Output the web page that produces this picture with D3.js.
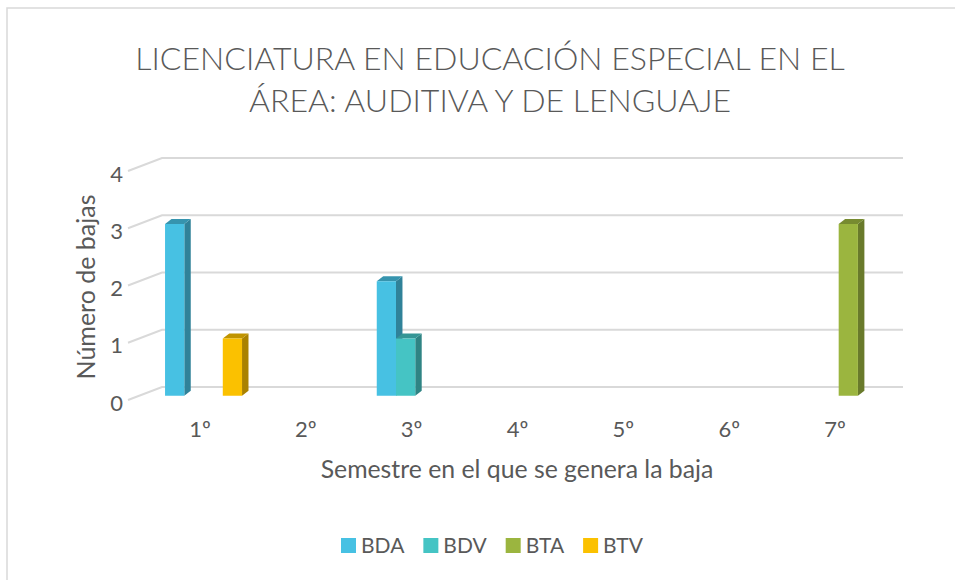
<!DOCTYPE html>
<html>
<head>
<meta charset="utf-8">
<script src="https://cdn.jsdelivr.net/npm/d3@7"></script>
<style>
  body { margin: 0; background: #fff; }
  text { font-family: Lato, "Open Sans", sans-serif; fill: #595959; }
</style>
</head>
<body>
<div class="mainContent"></div>
<script>
const w = 955;
const h = 580;

const categories = ['1º', '2º', '3º', '4º', '5º', '6º', '7º'];
const seriesNames = ['BDA', 'BDV', 'BTA', 'BTV'];
const bda = [3, 0, 2, 0, 0, 0, 0];
const bdv = [0, 0, 1, 0, 0, 0, 0];
const bta = [0, 0, 0, 0, 0, 0, 3];
const btv = [1, 0, 0, 0, 0, 0, 0];
const yTicks = [0, 1, 2, 3, 4];
const colors = ['#47c1e3', '#45c4c4', '#9bb53f', '#fbc100'];

const titleLines = ['LICENCIATURA EN EDUCACIÓN ESPECIAL EN EL', 'ÁREA: AUDITIVA Y DE LENGUAJE'];
const yTitle = 'Número de bajas';
const xTitle = 'Semestre en el que se genera la baja';

// 3d box: back wall + floor depth vector
const backL = 162, backR = 903;
const depthX = -17, depthY = 13;
const frontFace = 0.67, backFace = 0.29;

function fitWidth(sel, target) {
    const len = sel.node().getComputedTextLength();
    const fs = parseFloat(sel.attr('font-size'));
    sel.attr('font-size', fs * target / len);
}

function drawChart() {
    const svg = d3.select('.mainContent')
        .append('svg')
        .attr('width', w)
        .attr('height', h);

    svg.append('rect')
        .attr('x', 7).attr('y', 8)
        .attr('width', w + 20).attr('height', h + 20)
        .attr('fill', '#fff')
        .attr('stroke', '#d9d9d9')
        .attr('stroke-width', 1.5);

    const x0 = d3.scaleBand().domain(categories).range([backL, backR]);
    const x1 = d3.scaleBand().domain(seriesNames).range([0, x0.bandwidth()]).paddingOuter(0.75);
    const y = d3.scaleLinear().domain([0, 4]).range([387, 158]);

    // front-of-floor scales for the axes
    const xFront = d3.scaleBand().domain(categories).range([backL + depthX, backR + depthX]);
    const yFront = d3.scaleLinear().domain([0, 4]).range([387 + depthY, 158 + depthY]);

    const pt = (x, v, f) => [x + depthX * f, y(v) + depthY * f];

    // gridlines: back wall + side wall
    const grid = svg.append('g').attr('stroke', '#d9d9d9').attr('stroke-width', 2).attr('fill', 'none');
    yTicks.forEach(t => {
        grid.append('path')
            .attr('d', d3.line()([pt(backL + depthX, t, 1), pt(backL, t, 0), pt(backR, t, 0)]));
    });

    // bars
    const allSeries = [bda, bdv, bta, btv];
    const bars = [];
    categories.forEach((c, ci) => {
        seriesNames.forEach((s, si) => {
            const v = allSeries[si][ci];
            if (v > 0) bars.push({ c, s, v, color: colors[si] });
        });
    });

    const g = svg.append('g');
    bars.forEach(d => {
        const bx = x0(d.c) + x1(d.s);
        const bw = x1.bandwidth();
        const bar = g.append('g');
        const front = [pt(bx, 0, frontFace), pt(bx + bw, 0, frontFace), pt(bx + bw, d.v, frontFace), pt(bx, d.v, frontFace)];
        const side = [pt(bx + bw, 0, frontFace), pt(bx + bw, 0, backFace), pt(bx + bw, d.v, backFace), pt(bx + bw, d.v, frontFace)];
        const top = [pt(bx, d.v, frontFace), pt(bx + bw, d.v, frontFace), pt(bx + bw, d.v, backFace), pt(bx, d.v, backFace)];
        bar.append('polygon').attr('points', side.join(' ')).attr('fill', d3.color(d.color).darker(1.1));
        bar.append('polygon').attr('points', top.join(' ')).attr('fill', d3.color(d.color).darker(0.75));
        bar.append('polygon').attr('points', front.join(' ')).attr('fill', d.color);
    });

    // axes
    const yAxis = d3.axisLeft(yFront).tickValues(yTicks).tickFormat(d3.format('d')).tickSize(0).tickPadding(0);
    const ya = svg.append('g').attr('transform', 'translate(123,3)').call(yAxis);
    ya.select('.domain').remove();
    ya.selectAll('text').attr('font-size', 22).style('font-family', 'Lato').attr('fill', '#595959');

    const xAxis = d3.axisBottom(xFront).tickSize(0).tickPadding(0);
    const xa = svg.append('g').attr('transform', 'translate(2,421)').call(xAxis);
    xa.select('.domain').remove();
    xa.selectAll('text').attr('font-size', 22).style('font-family', 'Lato').attr('fill', '#595959');

    // titles
    const t1 = svg.append('text').attr('x', 490).attr('y', 70).attr('text-anchor', 'middle')
        .attr('font-size', 30).attr('font-weight', 300).text(titleLines[0]);
    fitWidth(t1, 710);
    svg.append('text').attr('x', 490).attr('y', 112).attr('text-anchor', 'middle')
        .attr('font-size', t1.attr('font-size')).attr('font-weight', 300).text(titleLines[1]);

    const yt = svg.append('text')
        .attr('transform', 'translate(95,287) rotate(-90)')
        .attr('text-anchor', 'middle')
        .attr('font-size', 22).text(yTitle);
    fitWidth(yt, 185);

    const xt = svg.append('text').attr('x', 517).attr('y', 478).attr('text-anchor', 'middle')
        .attr('font-size', 22).text(xTitle);
    fitWidth(xt, 393);

    // legend
    const legend = svg.append('g');
    let lx = 0;
    seriesNames.forEach((s, i) => {
        const item = legend.append('g').attr('transform', `translate(${lx},0)`);
        item.append('rect').attr('x', 0).attr('y', -15).attr('width', 15).attr('height', 15).attr('fill', colors[i]);
        const txt = item.append('text').attr('x', 20).attr('y', 0).attr('font-size', 21).text(s);
        lx += 20 + txt.node().getComputedTextLength() + 19;
    });
    const legendW = lx - 19;
    legend.attr('transform', `translate(${492 - legendW / 2},553)`);
}

drawChart();
</script>
</body>
</html>
